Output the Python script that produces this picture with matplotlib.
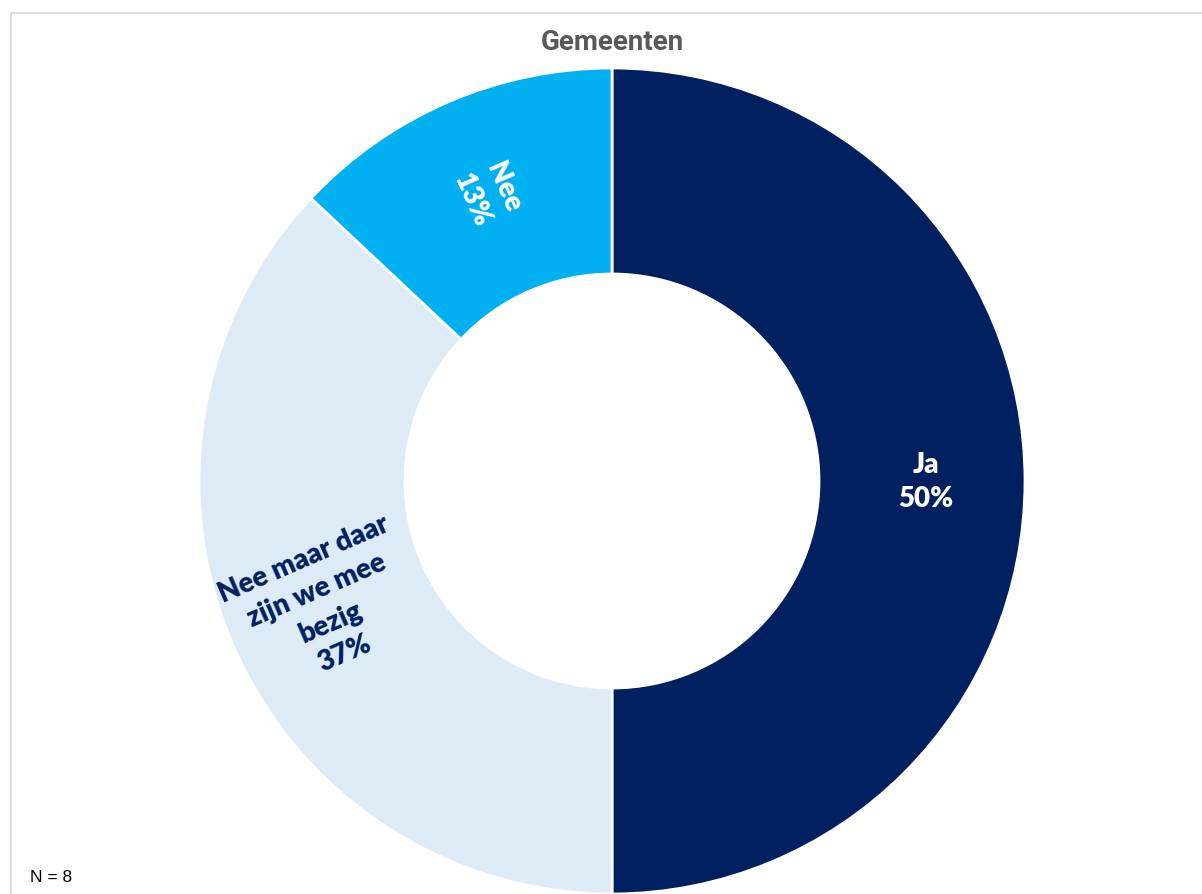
import matplotlib
matplotlib.use("Agg")
import numpy as np
import matplotlib.pyplot as plt
from matplotlib.patches import Rectangle

categories = ["Ja", "Nee maar daar\nzijn we mee\nbezig", "Nee"]
values = [50, 37, 13]
colors = ["#002060", "#DDEBF7", "#00B0F0"]
label_colors = ["white", "#002060", "white"]
title = "Gemeenten"
note = "N = 8"

W, H = 1202, 895
fig = plt.figure(figsize=(W / 100, H / 100), dpi=100)
fig.patch.set_facecolor("white")
ax = fig.add_axes([0, 0, 1, 1])

labels = [f"{c}\n{v}%" for c, v in zip(categories, values)]
wedges, texts = ax.pie(
    values,
    labels=labels,
    colors=colors,
    startangle=90,
    counterclock=False,
    center=(612, H - 482),
    radius=413,
    labeldistance=0.76,
    wedgeprops=dict(width=206, edgecolor="white", linewidth=2),
)
for w, t, c in zip(wedges, texts, label_colors):
    mid = 0.5 * (w.theta1 + w.theta2)
    rot = mid if np.cos(np.radians(mid)) > 0.01 else mid + 180
    if abs(np.cos(np.radians(mid))) > 0.99:
        rot = 0
    t.set_rotation(rot)
    t.set_rotation_mode("anchor")
    t.set_ha("center")
    t.set_va("center")
    t.set_color(c)
    t.set_fontfamily("Lato")
    t.set_fontweight("heavy")
    t.set_fontsize(20)
    t.set_linespacing(1.4)

ax.set_xlim(0, W)
ax.set_ylim(0, H)
ax.set_aspect("equal")
ax.axis("off")

fig.patches.append(Rectangle((11 / W, -0.1), 1.2, (H - 14) / H + 0.1,
                             transform=fig.transFigure, fill=False,
                             edgecolor="#D9D9D9", linewidth=1.2))

fig.text(612 / W, 1 - 43 / H, title, ha="center", va="center",
         fontfamily="Roboto", fontweight="bold", fontsize=20, color="#595959")
fig.text(30 / W, 1 - 878 / H, note, ha="left", va="center",
         fontfamily="Liberation Sans", fontsize=12.5, color="black")

fig.savefig("out.png", dpi=100, facecolor="white")
